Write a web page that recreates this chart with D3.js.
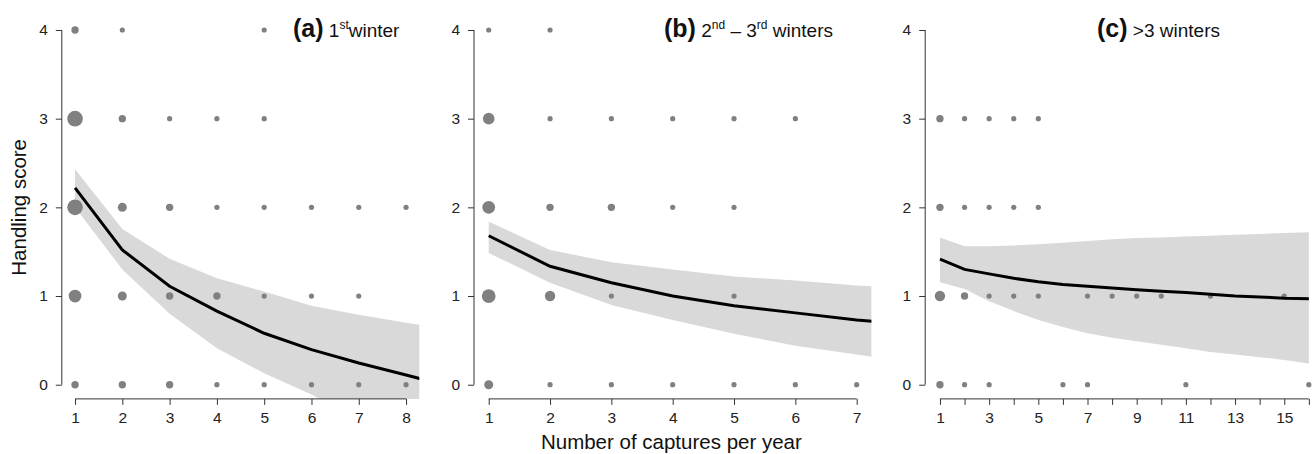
<!DOCTYPE html>
<html>
<head>
<meta charset="utf-8">
<script src="https://cdn.jsdelivr.net/npm/d3@7"></script>
<style>
  body { margin: 0; background: #fff; }
  svg text { font-family: "Liberation Sans", Arial, sans-serif; }
</style>
</head>
<body>
<div id="chart"></div>
<script>
// observed points: [captures, score, count]
var pointsA = [
    [1,4,2],[2,4,1],[5,4,1],
    [1,3,9],[2,3,2],[3,3,1],[4,3,1],[5,3,1],
    [1,2,9],[2,2,3],[3,2,2],[4,2,1],[5,2,1],[6,2,1],[7,2,1],[8,2,1],
    [1,1,6],[2,1,3],[3,1,2],[4,1,2],[5,1,1],[6,1,1],[7,1,1],
    [1,0,2],[2,0,2],[3,0,2],[4,0,1],[5,0,1],[6,0,1],[7,0,1],[8,0,1]
];
var pointsB = [
    [1,4,1],[2,4,1],
    [1,3,5],[2,3,1],[3,3,1],[4,3,1],[5,3,1],[6,3,1],
    [1,2,6],[2,2,2],[3,2,2],[4,2,1],[5,2,1],
    [1,1,7],[2,1,4],[3,1,1],[5,1,1],
    [1,0,3],[2,0,1],[3,0,1],[4,0,1],[5,0,1],[6,0,1],[7,0,1]
];
var pointsC = [
    [1,3,2],[2,3,1],[3,3,1],[4,3,1],[5,3,1],
    [1,2,2],[2,2,1],[3,2,1],[4,2,1],[5,2,1],
    [1,1,4],[2,1,2],[3,1,1],[4,1,1],[5,1,1],[7,1,1],[8,1,1],[9,1,1],[10,1,1],[12,1,1],[15,1,1],
    [1,0,2],[2,0,1],[3,0,1],[6,0,1],[7,0,1],[11,0,1],[16,0,1]
];

// model predictions
var captA = [1, 2, 3, 4, 5, 6, 7, 8, 9];
var fitA = [2.22, 1.52, 1.11, 0.83, 0.58, 0.395, 0.245, 0.11, -0.03];
var upperA = [2.43, 1.755, 1.42, 1.20, 1.05, 0.89, 0.79, 0.70, 0.62];
var lowerA = [2.00, 1.30, 0.80, 0.41, 0.13, -0.11, -0.40, -0.65, -0.90];

var captB = [1, 2, 3, 4, 5, 6, 7, 8];
var fitB = [1.68, 1.335, 1.15, 1.00, 0.89, 0.81, 0.73, 0.67];
var upperB = [1.84, 1.52, 1.38, 1.30, 1.22, 1.175, 1.12, 1.08];
var lowerB = [1.485, 1.15, 0.90, 0.73, 0.575, 0.44, 0.34, 0.24];

var captC = [1, 2, 3, 4, 5, 6, 7, 8, 9, 10, 11, 12, 13, 14, 15, 16];
var fitC = [1.415, 1.30, 1.25, 1.20, 1.16, 1.13, 1.11, 1.09, 1.07, 1.055, 1.04, 1.02, 1.00, 0.99, 0.975, 0.97];
var upperC = [1.66, 1.56, 1.56, 1.57, 1.585, 1.60, 1.62, 1.64, 1.655, 1.66, 1.67, 1.68, 1.69, 1.70, 1.71, 1.72];
var lowerC = [1.155, 1.08, 0.94, 0.83, 0.73, 0.65, 0.58, 0.53, 0.49, 0.45, 0.41, 0.37, 0.34, 0.31, 0.28, 0.24];

var yTicks = [0, 1, 2, 3, 4];

var panels = [
    { id: "a", left: 61.8, right: 419.3, xMax: 8, titleX: 293,
      title: [["(a)", "b"], [" 1", "n"], ["st", "s"], ["winter", "n"]],
      points: pointsA, capt: captA, fit: fitA, upper: upperA, lower: lowerA, labelEvery: 1 },
    { id: "b", left: 474, right: 871.4, xMax: 7, titleX: 664,
      title: [["(b)", "b"], [" 2", "n"], ["nd", "s"], [" \u2013 3", "n"], ["rd", "s"], [" winters", "n"]],
      points: pointsB, capt: captB, fit: fitB, upper: upperB, lower: lowerB, labelEvery: 1 },
    { id: "c", left: 925.2, right: 1323.6, xMax: 16, titleX: 1097,
      title: [["(c)", "b"], [" >3 winters", "n"]],
      points: pointsC, capt: captC, fit: fitC, upper: upperC, lower: lowerC, labelEvery: 2 }
];

var width = 1315, height = 454;
var plotTop = 15.8, plotBottom = 398.9;
var axisColor = "#333", textColor = "#222";

var svg = d3.select("#chart")
    .append("svg")
    .attr("width", width)
    .attr("height", height);

var y = d3.scaleLinear().domain([-0.16, 4.16]).range([plotBottom, plotTop]);
var r = d3.scaleSqrt().domain([0, 9]).range([0, 7.8]);

panels.forEach(function(p) {
    var pad = (p.xMax - 1) * 0.04;
    var x = d3.scaleLinear().domain([1 - pad, p.xMax + pad]).range([p.left, p.right]);

    svg.append("clipPath")
        .attr("id", "clip-" + p.id)
        .append("rect")
        .attr("x", p.left)
        .attr("y", plotTop)
        .attr("width", p.right - p.left)
        .attr("height", plotBottom - plotTop);

    var g = svg.append("g").attr("class", "panel");
    var inner = g.append("g").attr("clip-path", "url(#clip-" + p.id + ")");

    var rows = p.capt.map(function(c, i) {
        return { x: c, fit: p.fit[i], hi: p.upper[i], lo: p.lower[i] };
    });

    var band = d3.area()
        .x(function(d) { return x(d.x); })
        .y0(function(d) { return y(d.lo); })
        .y1(function(d) { return y(d.hi); });

    inner.append("path")
        .datum(rows)
        .attr("d", band)
        .attr("fill", "#d9d9d9");

    inner.selectAll(".obs")
        .data(p.points)
        .enter()
        .append("circle")
        .attr("class", "obs")
        .attr("cx", function(d) { return x(d[0]); })
        .attr("cy", function(d) { return y(d[1]); })
        .attr("r", function(d) { return r(d[2]); })
        .attr("fill", "#808080");

    var line = d3.line()
        .x(function(d) { return x(d.x); })
        .y(function(d) { return y(d.fit); });

    inner.append("path")
        .datum(rows)
        .attr("d", line)
        .attr("fill", "none")
        .attr("stroke", "#000")
        .attr("stroke-width", 3);

    // y axis
    var yAxis = d3.axisLeft(y).tickValues(yTicks).tickSize(6).tickPadding(8).tickFormat(d3.format("d"));
    var ya = g.append("g").attr("transform", "translate(" + p.left + ",0)").call(yAxis);
    ya.select(".domain").remove();
    ya.append("line")
        .attr("x1", 0).attr("x2", 0)
        .attr("y1", y(0)).attr("y2", y(4))
        .attr("stroke", axisColor);

    // x axis
    var xt = d3.range(1, p.xMax + 1);
    var xAxis = d3.axisBottom(x).tickValues(xt).tickSize(6).tickPadding(7)
        .tickFormat(function(d) { return (d - 1) % p.labelEvery === 0 ? d : ""; });
    var xa = g.append("g").attr("transform", "translate(0," + plotBottom + ")").call(xAxis);
    xa.select(".domain").remove();
    xa.append("line")
        .attr("x1", x(1)).attr("x2", x(p.xMax))
        .attr("y1", 0).attr("y2", 0)
        .attr("stroke", axisColor);

    [ya, xa].forEach(function(a) {
        a.selectAll(".tick line").attr("stroke", axisColor);
        a.selectAll(".tick text").attr("fill", textColor).style("font-size", "15.5px");
    });

    // panel title
    var t = g.append("text")
        .attr("x", p.titleX)
        .attr("y", 37)
        .attr("fill", "#111");
    var raised = false;
    p.title.forEach(function(part) {
        var s = t.append("tspan").text(part[0]);
        if (part[1] === "b") {
            s.style("font-weight", "bold").style("font-size", "25px");
        } else if (part[1] === "s") {
            s.style("font-size", "12px").attr("dy", -8);
            raised = true;
        } else {
            s.style("font-size", "19px");
            if (raised) { s.attr("dy", 8); raised = false; }
        }
    });
});

svg.append("text")
    .attr("transform", "translate(26," + y(2) + ") rotate(-90)")
    .attr("text-anchor", "middle")
    .attr("fill", "#111")
    .style("font-size", "20.5px")
    .text("Handling score");

svg.append("text")
    .attr("x", 671.4)
    .attr("y", 449)
    .attr("text-anchor", "middle")
    .attr("fill", "#111")
    .style("font-size", "20.5px")
    .text("Number of captures per year");
</script>
</body>
</html>
